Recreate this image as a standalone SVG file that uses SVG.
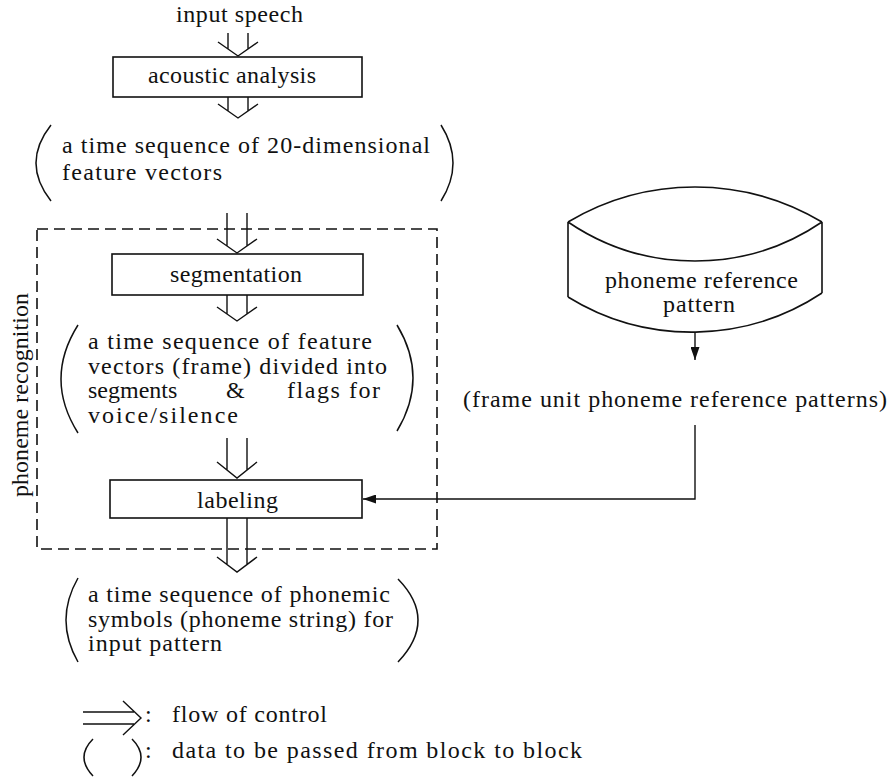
<svg xmlns="http://www.w3.org/2000/svg" width="893" height="777" viewBox="0 0 893 777">
<style>
  text { font-family: "Liberation Serif", Tinos, "Times New Roman", "Noto Serif", "DejaVu Serif", serif; font-size: 24px; fill: #111; }
  .box { fill: none; stroke: #111; stroke-width: 1.6; }
  .ln { fill: none; stroke: #111; stroke-width: 1.4; }
  .paren { fill: none; stroke: #111; stroke-width: 1.5; }
  .dash { fill: none; stroke: #111; stroke-width: 1.6; stroke-dasharray: 11 6; }
</style>
<defs>
  <marker id="ah" markerUnits="userSpaceOnUse" markerWidth="13" markerHeight="9" refX="13" refY="4.5" orient="auto">
    <path d="M0,0 L13,4.5 L0,9 z" fill="#111"/>
  </marker>
</defs>
<rect width="893" height="777" fill="#fff"/>

<g id="input-speech">
  <text x="176" y="22" textLength="127" lengthAdjust="spacing">input speech</text>
</g>

<g id="acoustic-analysis">
  <rect class="box" x="113" y="57" width="249" height="40"/>
  <text x="148" y="83" textLength="168" lengthAdjust="spacing">acoustic analysis</text>
</g>

<g id="feature-vectors">
  <path class="paren" d="M51,125 Q21,163 51,201"/>
  <path class="paren" d="M441,125 Q465,163 441,201"/>
  <text x="62" y="153" textLength="368" lengthAdjust="spacing">a time sequence of 20-dimensional</text>
  <text x="62" y="180" textLength="160" lengthAdjust="spacing">feature vectors</text>
</g>

<g id="phoneme-recognition">
  <rect class="dash" x="37" y="229" width="400" height="320"/>
  <text transform="translate(28,497) rotate(-90)" x="0" y="0" textLength="204" lengthAdjust="spacing">phoneme recognition</text>
</g>

<g id="segmentation">
  <rect class="box" x="112" y="254" width="251" height="41"/>
  <text x="170" y="282" textLength="132" lengthAdjust="spacing">segmentation</text>
</g>

<g id="segmented-vectors">
  <path class="paren" d="M78,325 Q44,379 78,433"/>
  <path class="paren" d="M397,325 Q429,378 397,431"/>
  <text x="88" y="349" textLength="284" lengthAdjust="spacing">a time sequence of feature</text>
  <text x="88" y="374" textLength="299" lengthAdjust="spacing">vectors (frame) divided into</text>
  <text y="398"><tspan x="88">segments</tspan><tspan x="226">&amp;</tspan><tspan x="287" textLength="93" lengthAdjust="spacing">flags for</tspan></text>
  <text x="88" y="423" textLength="150" lengthAdjust="spacing">voice/silence</text>
</g>

<g id="labeling">
  <rect class="box" x="110" y="480" width="252" height="38"/>
  <text x="197" y="508" textLength="81" lengthAdjust="spacing">labeling</text>
</g>

<g id="phoneme-string">
  <path class="paren" d="M78,578 Q54,620 78,662"/>
  <path class="paren" d="M398,579 Q438,620 398,662"/>
  <text x="88" y="602" textLength="302" lengthAdjust="spacing">a time sequence of phonemic</text>
  <text x="88" y="627" textLength="305" lengthAdjust="spacing">symbols (phoneme string) for</text>
  <text x="88" y="651" textLength="134" lengthAdjust="spacing">input pattern</text>
</g>

<g id="reference-pattern">
  <path class="box" d="M568,222 A248,248 0 0 1 822,222 M568,222 A226,226 0 0 0 822,222 M568,222 L568,297 M822,222 L822,293 M568,297 A236,236 0 0 0 822,293"/>
  <text x="605" y="288" textLength="193" lengthAdjust="spacing">phoneme reference</text>
  <text x="663" y="312" textLength="72" lengthAdjust="spacing">pattern</text>
</g>

<g id="frame-unit-patterns">
  <text x="463" y="407" textLength="424" lengthAdjust="spacing">(frame unit phoneme reference patterns)</text>
</g>

<g id="connectors">
  <path class="ln" d="M228,33 V49 M248,33 V49 M218,42 L238,56 L258,42"/>
  <path class="ln" d="M228,97 V111 M248,97 V111 M218,104 L238,118 L258,104"/>
  <path class="ln" d="M227,213 V246 M247,213 V246 M217,239 L237,253 L257,239"/>
  <path class="ln" d="M227,295 V314 M247,295 V314 M217,307 L237,321 L257,307"/>
  <path class="ln" d="M227,438 V470 M247,438 V470 M217,462 L237,478 L257,462"/>
  <path class="ln" d="M227,518 V564 M247,518 V564 M217,557 L237,572 L257,557"/>
  <path class="ln" d="M695,332 V360" marker-end="url(#ah)"/>
  <path class="ln" d="M695,425 V499 H363" marker-end="url(#ah)"/>
</g>

<g id="legend">
  <path class="ln" d="M83,712 H134 M83,724 H134 M123,701 L141,718 L123,735"/>
  <text y="722"><tspan x="145">:</tspan><tspan x="172" textLength="155" lengthAdjust="spacing">flow of control</tspan></text>
  <path class="paren" d="M93,739 Q75,757 93,776"/>
  <path class="paren" d="M132,739 Q150,757 132,776"/>
  <text y="758"><tspan x="145">:</tspan><tspan x="172" textLength="410" lengthAdjust="spacing">data to be passed from block to block</tspan></text>
</g>
</svg>
